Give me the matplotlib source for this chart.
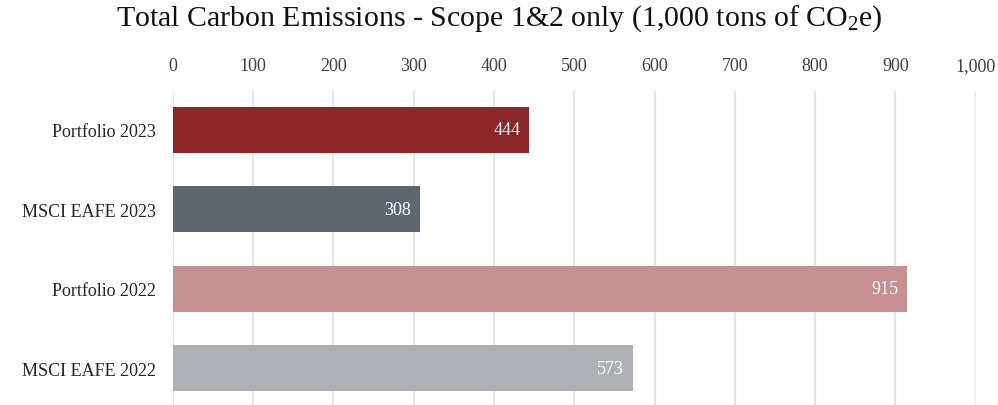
import matplotlib
matplotlib.use("Agg")
import matplotlib.pyplot as plt

categories = ["Portfolio 2023", "MSCI EAFE 2023", "Portfolio 2022", "MSCI EAFE 2022"]
values = [444, 308, 915, 573]
colors = ["#8C2629", "#5E6670", "#C69092", "#ADB1B5"]
x_ticks = [0, 100, 200, 300, 400, 500, 600, 700, 800, 900, 1000]

plt.rcParams["font.family"] = ["Liberation Serif", "DejaVu Serif"]
plt.rcParams["mathtext.fontset"] = "custom"
plt.rcParams["mathtext.rm"] = "Liberation Serif"
plt.rcParams["mathtext.it"] = "Liberation Serif:italic"
plt.rcParams["mathtext.bf"] = "Liberation Serif:bold"

fig = plt.figure(figsize=(9.98, 4.06), dpi=100)
ax = fig.add_axes([172.7 / 998, 0.0, (975.7 - 172.7) / 998, (406 - 92) / 406])

ypos = list(range(len(categories)))
bars = ax.barh(ypos, values, height=0.58, color=colors, zorder=2)

for b, v in zip(bars, values):
    ax.text(b.get_width() - 11, b.get_y() + b.get_height() / 2, f"{v:,}",
            ha="right", va="center", color="white", fontsize=13, zorder=3)

ax.set_xlim(0, 1000)
ax.set_ylim(3.46, -0.49)
ax.set_xticks(x_ticks)
ax.set_xticklabels([f"{t:,}" for t in x_ticks])
ax.xaxis.tick_top()
ax.set_yticks(ypos)
ax.set_yticklabels(categories)
ax.tick_params(axis="x", length=0, pad=12, labelsize=13, labelcolor="#404040")
ax.tick_params(axis="y", length=0, pad=12, labelsize=13, labelcolor="#262626")
ax.grid(axis="x", color="#E6E6E6", linewidth=1.6, zorder=0)
for s in ax.spines.values():
    s.set_visible(False)

fig.text(0.5, 0.953, r"Total Carbon Emissions - Scope 1&2 only (1,000 tons of CO$_\mathrm{2}$e)",
         ha="center", va="center", fontsize=21.5, color="#111111")

fig.savefig("out.png", dpi=100)
